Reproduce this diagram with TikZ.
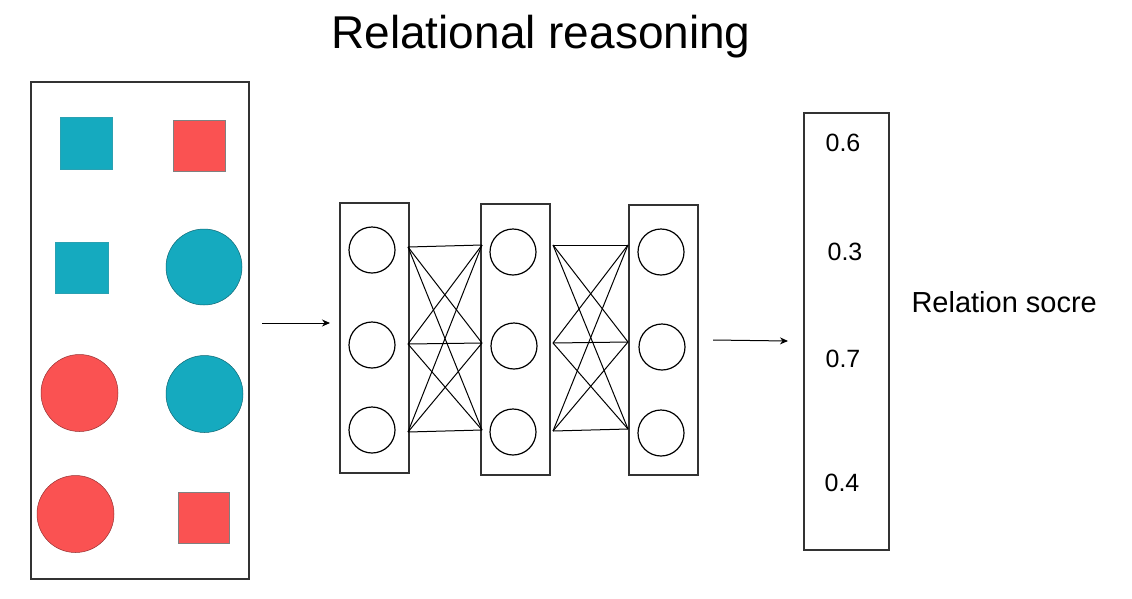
\documentclass[tikz,border=0pt]{standalone}
\usepackage{fontspec}
\setmainfont{Liberation Sans}
\usetikzlibrary{arrows.meta}
\definecolor{teal1}{HTML}{15AABF}
\definecolor{red1}{HTML}{FA5252}
\tikzset{
  frame/.style={draw=black!80, line width=1.2pt},
  tealsq/.style={fill=teal1, draw=teal1!80!gray, line width=0.5pt},
  redsq/.style={fill=red1, draw=gray, line width=0.9pt},
  tealc/.style={circle, fill=teal1, draw=teal1!60!black, line width=0.5pt, inner sep=0pt},
  redc/.style={circle, fill=red1, draw=red1!60!black, line width=0.5pt, inner sep=0pt},
  neuron/.style={circle, draw=black, line width=1.2pt, minimum size=46pt, inner sep=0pt},
  layerbox/.style={draw=black!80, line width=1.2pt, inner sep=0pt},
  wire/.style={draw=black, line width=1pt},
  arr/.style={draw=black, line width=1pt, -{Stealth[length=8pt,width=7pt]}},
  score/.style={font=\fontsize{25}{29}\selectfont},
}
\begin{document}
\begin{tikzpicture}[x=1pt,y=-1pt]
\useasboundingbox (0,0) rectangle (1132,598);
\fill[white] (0,0) rectangle (1132,598);

% title
\node[font=\fontsize{46}{52}\selectfont] (title) at (541,37) {Relational reasoning};

% left input panel
\node[frame, minimum width=218pt, minimum height=497pt, inner sep=0pt] (input) at (140,330.5) {};
\draw[tealsq] (60,117) rectangle (112,169);
\draw[redsq] (173,120) rectangle (225,171);
\draw[tealsq] (55,242) rectangle (108,293);
\node[tealc, minimum size=76pt] (c1) at (204,267) {};
\node[redc, minimum size=77pt] (c2) at (79.5,393) {};
\node[tealc, minimum size=77pt] (c3) at (204.5,394) {};
\node[redc, minimum size=77pt] (c4) at (75.5,514) {};
\draw[redsq] (178,492) rectangle (229,543);

% network layers
\node[layerbox, minimum width=69pt, minimum height=270pt] (L1) at (374.5,338) {};
\node[layerbox, minimum width=69pt, minimum height=271pt] (L2) at (515.5,339.5) {};
\node[layerbox, minimum width=69pt, minimum height=270pt] (L3) at (663.5,340) {};

\node[neuron] (n11) at (372,250) {};
\node[neuron] (n12) at (372,345) {};
\node[neuron] (n13) at (372,430) {};
\node[neuron] (n21) at (513,252) {};
\node[neuron] (n22) at (514,346) {};
\node[neuron] (n23) at (513,432) {};
\node[neuron] (n31) at (661,252) {};
\node[neuron] (n32) at (662,347) {};
\node[neuron] (n33) at (661,433) {};

% connection ports on layer box edges
\coordinate (a1) at (408,247);
\coordinate (a2) at (408,344);
\coordinate (a3) at (408,432);
\coordinate (b1) at (482,245);
\coordinate (b2) at (482,343);
\coordinate (b3) at (482,430);
\coordinate (c1p) at (553,245);
\coordinate (c2p) at (553,343);
\coordinate (c3p) at (553,431);
\coordinate (d1) at (628,245);
\coordinate (d2) at (628,342);
\coordinate (d3) at (628,429);

\foreach \i in {1,2,3}{
  \foreach \j in {1,2,3}{
    \draw[wire] (a\i) -- (b\j);
    \draw[wire] (c\i p) -- (d\j);
  }
}

% arrows
\coordinate (s1) at (262,323);
\coordinate (e1) at (330,323);
\draw[arr] (s1) -- (e1);
\coordinate (s2) at (713,340);
\coordinate (e2) at (788,341);
\draw[arr] (s2) -- (e2);

% output scores
\node[frame, minimum width=85pt, minimum height=437pt, inner sep=0pt] (out) at (846.5,331.5) {};
\node[score] (v1) at (843,143) {0.6};
\node[score] (v2) at (845,252) {0.3};
\node[score] (v3) at (843,359) {0.7};
\node[score] (v4) at (842,483) {0.4};

\node[font=\fontsize{29}{33}\selectfont, anchor=west] (lbl) at (908,302) {Relation socre};
\end{tikzpicture}
\end{document}
